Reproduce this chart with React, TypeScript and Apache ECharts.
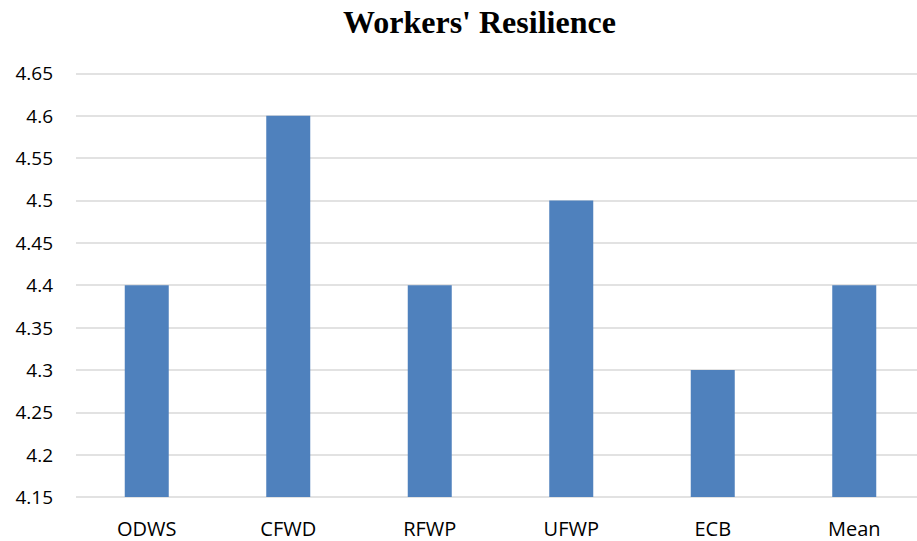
import React, { useEffect, useRef } from "react";
import * as echarts from "echarts";

const categories = ["ODWS", "CFWD", "RFWP", "UFWP", "ECB", "Mean"];
const values = [4.4, 4.6, 4.4, 4.5, 4.3, 4.4];
const titleText = "Workers' Resilience";

export default function App() {
  const ref = useRef<HTMLDivElement>(null);
  useEffect(() => {
    const chart = echarts.init(ref.current!, null, { renderer: "svg" });
    chart.setOption({
      animation: false,
      backgroundColor: "#ffffff",
      title: {
        text: titleText,
        left: 338,
        top: 1,
        textStyle: {
          fontFamily: "Liberation Serif",
          fontWeight: "bold",
          fontSize: 32,
          color: "#000000",
        },
      },
      grid: { left: 76, right: 0, top: 73.3, bottom: 44 },
      xAxis: {
        type: "category",
        data: categories,
        axisLine: { show: false },
        axisTick: { show: false },
        axisLabel: {
          margin: 21,
          fontFamily: "Open Sans",
          fontSize: 20,
          color: "#000000",
        },
      },
      yAxis: {
        type: "value",
        min: 4.15,
        max: 4.65,
        interval: 0.05,
        axisLine: { show: false },
        axisTick: { show: false },
        splitLine: { lineStyle: { color: "#d9d9d9", width: 1.5 } },
        axisLabel: {
          margin: 23,
          fontFamily: "Open Sans",
          fontSize: 19,
          color: "#000000",
          formatter: (v: number) => String(parseFloat(v.toFixed(2))),
        },
      },
      series: [
        {
          type: "bar",
          data: values,
          barWidth: 44,
          itemStyle: { color: "#4f81bd" },
        },
      ],
    });
    return () => chart.dispose();
  }, []);
  return (
    <div
      style={{
        position: "absolute",
        left: 0,
        top: 0,
        width: 917,
        height: 541,
        overflow: "hidden",
      }}
    >
      <div ref={ref} style={{ width: 925, height: 541 }} />
    </div>
  );
}
